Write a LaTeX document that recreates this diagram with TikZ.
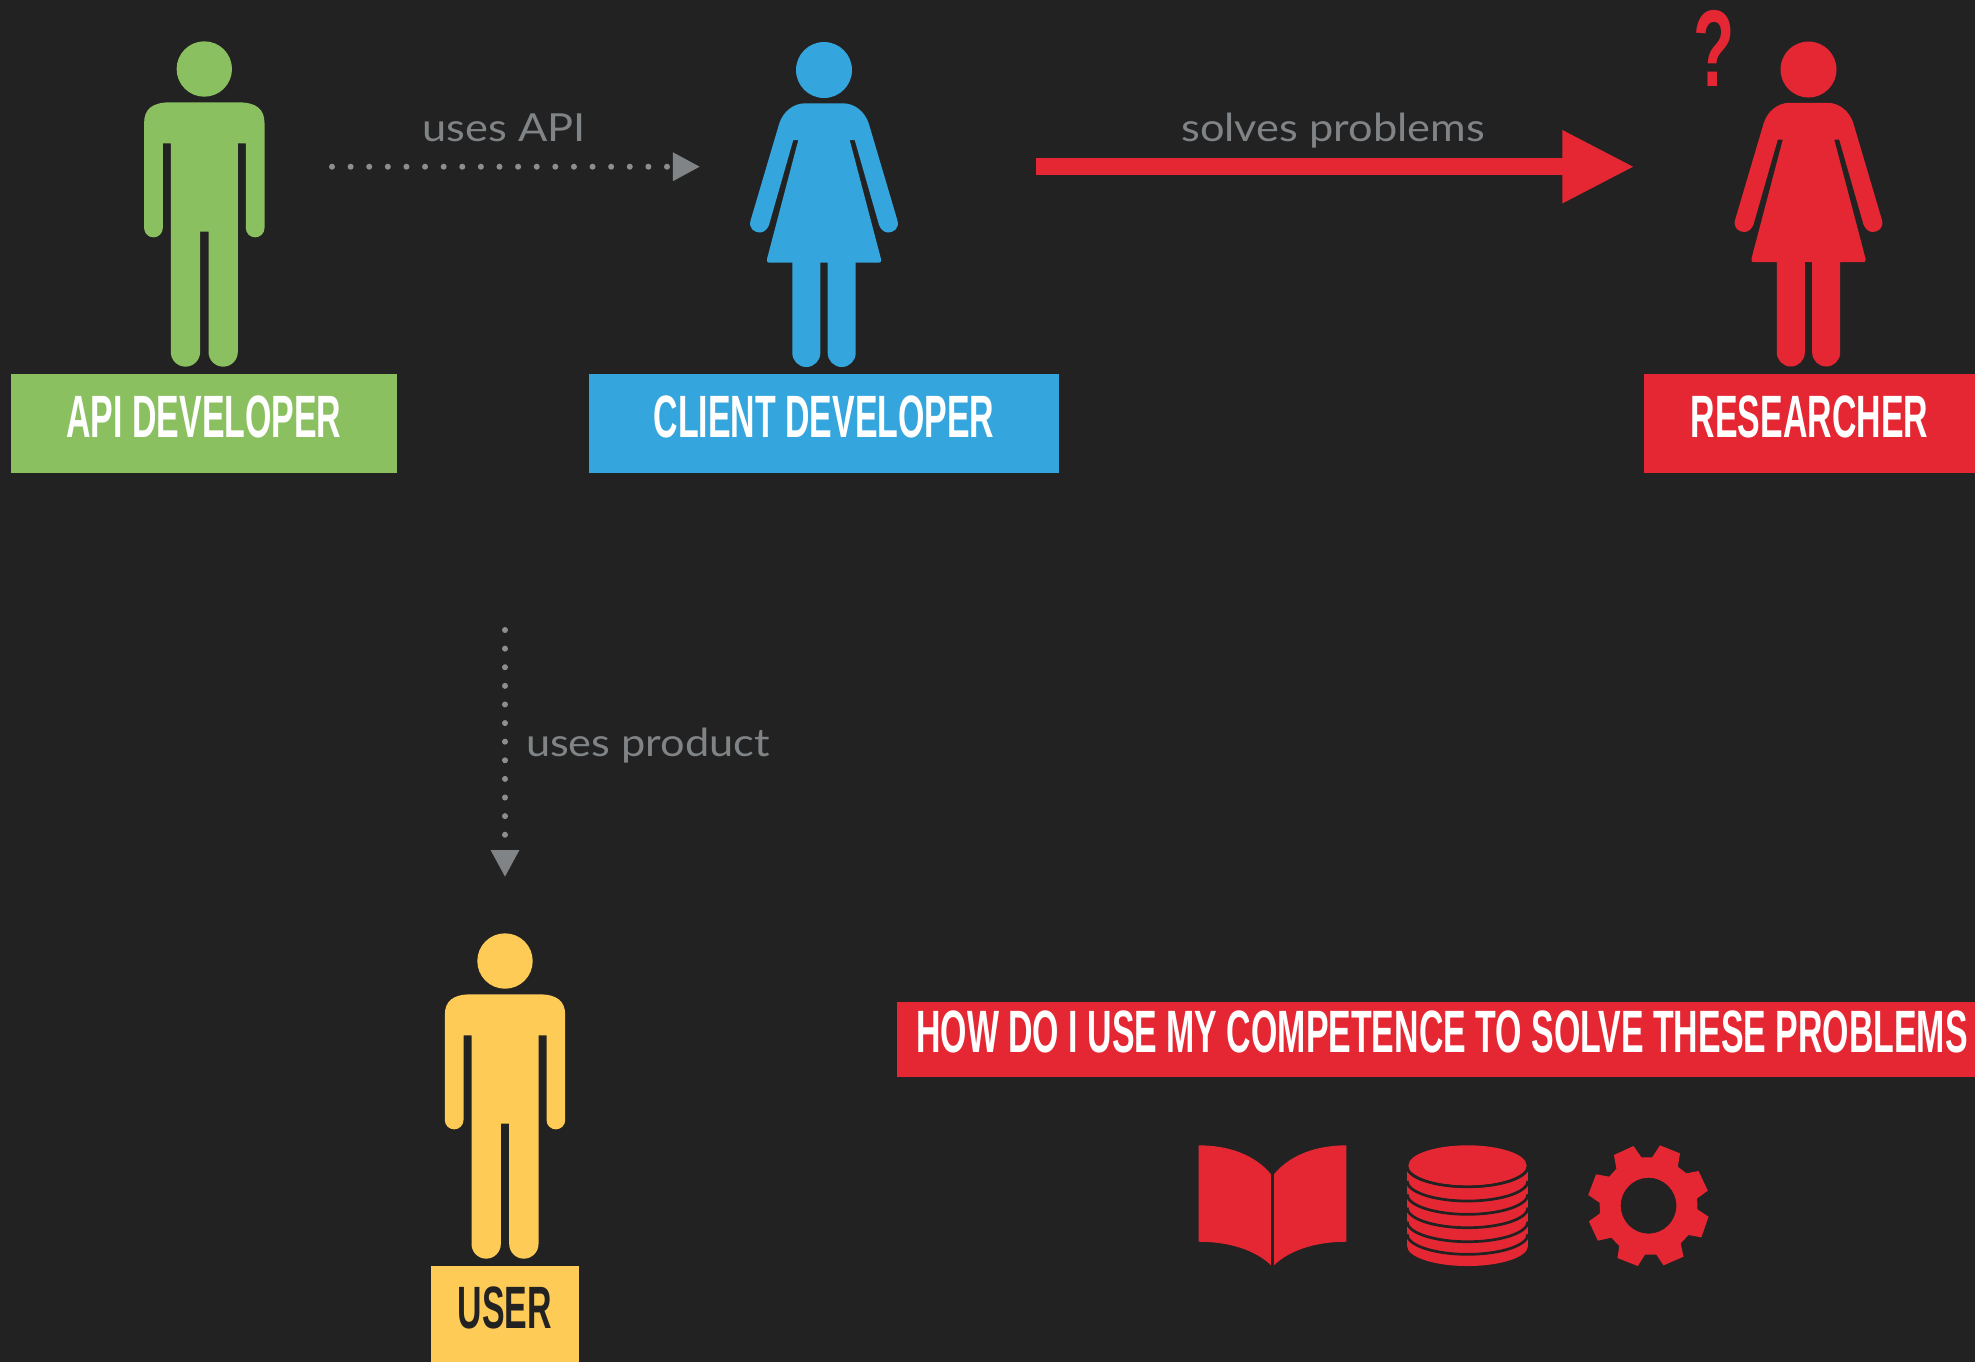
\documentclass[tikz,border=0pt]{standalone}
\usepackage{fontspec}
\setmainfont{Lato}
\newfontfamily\bannerfont[FakeStretch=0.567]{Liberation Sans}
\newfontfamily\questionfont[FakeStretch=0.62]{Liberation Sans}
\newfontfamily\labelfont[FakeStretch=1.12]{Lato}
\usetikzlibrary{arrows.meta}
\definecolor{bg}{HTML}{222222}
\definecolor{grn}{RGB}{139, 192, 96}
\definecolor{blu}{RGB}{52, 165, 221}
\definecolor{rd}{RGB}{229, 39, 51}
\definecolor{yel}{RGB}{254, 203, 87}
\definecolor{gry}{HTML}{808486}
\definecolor{dots}{HTML}{8E8E90}
\tikzset{
	banner/.style={inner sep=0pt, minimum height=9.87mm, text=white, text height=4.3mm, text depth=1.5mm, font=\bannerfont\bfseries\fontsize{17pt}{20pt}\selectfont},
	edgelabel/.style={anchor=base, inner sep=0pt, text=gry, font=\labelfont\fontsize{11pt}{13pt}\selectfont},
	dotted line/.style={dots, line width=0.6mm, line cap=round, dash pattern=on 0pt off 1.86mm, -{Triangle[length=2.7mm, width=2.7mm, color=gry]}},
	man/.pic={
		\fill[pic actions] (0,0) circle[radius=27.7];
		\fill[pic actions] (-34,33.3) -- (34,33.3) .. controls (52,33.3) and (60.2,40) .. (60.2,54) -- (60.2,159) arc[start angle=0, end angle=180, radius=9.35] -- (41.5,74.3) -- (33.5,74.3) -- (33.5,283) arc[start angle=0, end angle=180, radius=14.65] -- (4.2,162.7) -- (-4.2,162.7) -- (-4.2,283) arc[start angle=0, end angle=180, radius=14.65] -- (-33.5,74.3) -- (-41.5,74.3) -- (-41.5,159) arc[start angle=0, end angle=180, radius=9.35] -- (-60.2,54) .. controls (-60.2,40) and (-52,33.3) .. (-34,33.3) -- cycle;
	},
	woman/.pic={
		\fill[pic actions] (0,0) circle[radius=28];
		\fill[pic actions] (-19,33.3) -- (19,33.3) .. controls (31,33.3) and (41,42) .. (44.7,53.3) -- (73.3,150) .. controls (76,159) and (69,162.5) .. (64,162.5) .. controls (60,162.5) and (56.5,159) .. (55,155) -- (30.7,70) -- (25.7,70) -- (57,189) .. controls (57.6,191) and (57,192.7) .. (55,192.7) -- (31.7,192.7) -- (31.7,283) arc[start angle=0, end angle=180, radius=14] -- (3.7,192.7) -- (-3.7,192.7) -- (-3.7,283) arc[start angle=0, end angle=180, radius=14] -- (-31.7,192.7) -- (-55,192.7) .. controls (-57,192.7) and (-57.6,191) .. (-57,189) -- (-25.7,70) -- (-30.7,70) -- (-55,155) .. controls (-56.5,159) and (-60,162.5) .. (-64,162.5) .. controls (-69,162.5) and (-76,159) .. (-73.3,150) -- (-44.7,53.3) .. controls (-41,42) and (-31,33.3) .. (-19,33.3) -- cycle;
	}
}

\begin{document}
\begin{tikzpicture}[x=0.01cm, y=-0.01cm]

	\useasboundingbox (0,0) rectangle (1975,1362);
	\fill[bg] (0,0) rectangle (1975,1362);

	\pic[fill=grn] at (204.3,69) {man};
	\pic[fill=blu] at (824,70) {woman};
	\pic[fill=rd] at (1808.5,69.5) {woman};
	\pic[fill=yel] at (505,961) {man};

	\node[banner, fill=grn, minimum width=38.6mm] (apidev) at (204,423.3) {API DEVELOPER};
	\node[banner, fill=blu, minimum width=47mm] (clientdev) at (824,423.3) {CLIENT DEVELOPER};
	\node[banner, fill=rd, minimum width=33.1mm] (researcher) at (1809.5,423.3) {RESEARCHER};
	\node[banner, fill=yel, text=bg, minimum width=14.8mm, minimum height=9.6mm] (user) at (505,1314) {USER};
	\node[banner, fill=rd, minimum width=107.8mm, minimum height=7.5mm, text depth=1.6mm, text height=4.2mm] (howdo) at (1436,1039.5) {\hspace*{1.2mm}HOW DO I USE MY COMPETENCE TO SOLVE THESE PROBLEMS};

	\node[inner sep=0pt, text=rd, anchor=base, font=\questionfont\bfseries\fontsize{31pt}{33pt}\selectfont] (question) at (1713.7,86) {?};

	\coordinate (apistart) at (332,166.7);
	\coordinate (apiend) at (700,166.7);
	\coordinate (productstart) at (505,630);
	\coordinate (productend) at (505,877);
	\coordinate (problemstart) at (1035.5,166.7);
	\coordinate (problemend) at (1634.5,166.7);

	\draw[dotted line] (apistart) -- (apiend);
	\draw[dotted line] (productstart) -- (productend);
	\draw[rd, line width=1.7mm, -{Triangle[length=7.2mm, width=6.8mm]}] (problemstart) -- (problemend);

	\node[edgelabel] (usesapi) at (504,141.7) {uses API};
	\node[edgelabel] (solves) at (1333,141.7) {solves problems};
	\node[edgelabel] (usesproduct) at (648,756) {uses product};

	% book
	\fill[rd] (1198.6,1145.3) .. controls (1229,1145.3) and (1255,1155) .. (1270.8,1174) -- (1270.8,1265) .. controls (1255,1250) and (1229,1241.7) .. (1198.6,1241.7) -- cycle;
	\fill[rd] (1346.4,1145.3) .. controls (1316,1145.3) and (1290,1155) .. (1274.2,1174) -- (1274.2,1265) .. controls (1290,1250) and (1316,1241.7) .. (1346.4,1241.7) -- cycle;

	% database
	\fill[rd] (1407.1,1165.3) -- (1407.1,1246) arc[start angle=180, end angle=0, x radius=60.4, y radius=20] -- (1527.9,1165.3) -- cycle;
	\foreach \y in {1166.7, 1181, 1194.3, 1207.7, 1221.7, 1234.3} {
			\draw[bg, line width=0.27mm] (1407.1,\y) arc[start angle=180, end angle=0, x radius=60.4, y radius=20];
		}
	\draw[bg, line width=0.27mm] (1406.7,1165.3) arc[start angle=180, end angle=0, x radius=60.8, y radius=21.3];
	\fill[rd] (1467.5,1165.3) ellipse[x radius=59, y radius=20];

	% gear
	\fill[rd, even odd rule, shift={(1180,1120)}, xscale=1/2.8, yscale=1/3] (1215,105) -- (1270,78) -- (1292,112) -- (1322,112) -- (1344,76) -- (1400,100) -- (1394,140) -- (1418,160) -- (1452,153) -- (1478,212) -- (1448,235) -- (1449,268) -- (1480,290) -- (1460,352) -- (1424,345) -- (1402,370) -- (1410,410) -- (1354,436) -- (1334,404) -- (1302,404) -- (1282,438) -- (1225,414) -- (1230,378) -- (1208,353) -- (1170,362) -- (1145,304) -- (1176,280) -- (1175,248) -- (1143,225) -- (1165,163) -- (1202,170) -- (1222,146) -- cycle (1312,257) ellipse[x radius=78, y radius=84];

\end{tikzpicture}
\end{document}
